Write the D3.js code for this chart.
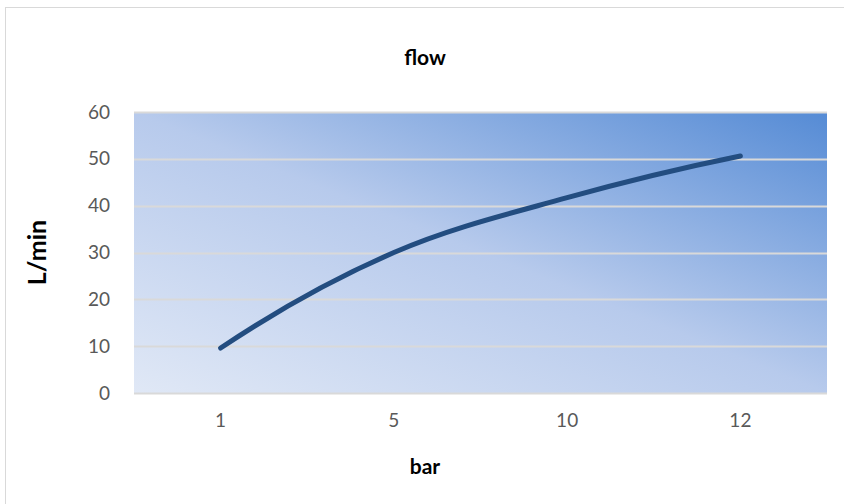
<!DOCTYPE html>
<html>
<head>
<meta charset="utf-8">
<script src="https://cdn.jsdelivr.net/npm/d3@7"></script>
<style>
  body { margin: 0; background: #fff; }
  svg { display: block; font-family: Lato, "Open Sans", sans-serif; }
</style>
</head>
<body>
<svg id="chart"></svg>
<script>
const width = 844;
const height = 504;

// chart values
const pressure = ["1", "5", "10", "12"];
const flow = [9.6, 30, 41.7, 50.6];
const yTicks = [0, 10, 20, 30, 40, 50, 60];

const plot = {left: 134, right: 827, top: 112, bottom: 393};

// Excel-like smoothing: cubic Hermite segments, tangents from 3-point parabolas
function curveSmooth(context) {
  let xs, ys;
  return {
    areaStart() {},
    areaEnd() {},
    lineStart() { xs = []; ys = []; },
    point(px, py) { xs.push(+px); ys.push(+py); },
    lineEnd() {
      const n = xs.length;
      if (!n) return;
      context.moveTo(xs[0], ys[0]);
      if (n < 3) {
        if (n === 2) context.lineTo(xs[1], ys[1]);
        return;
      }
      const t = xs.map((_, i) => {
        if (i === 0) return (-3 * ys[0] + 4 * ys[1] - ys[2]) / (xs[2] - xs[0]);
        if (i === n - 1) return (ys[n - 3] - 4 * ys[n - 2] + 3 * ys[n - 1]) / (xs[n - 1] - xs[n - 3]);
        return (ys[i + 1] - ys[i - 1]) / (xs[i + 1] - xs[i - 1]);
      });
      for (let i = 0; i < n - 1; i++) {
        const h = (xs[i + 1] - xs[i]) / 3;
        context.bezierCurveTo(xs[i] + h, ys[i] + h * t[i],
                              xs[i + 1] - h, ys[i + 1] - h * t[i + 1],
                              xs[i + 1], ys[i + 1]);
      }
    }
  };
}

const svg = d3.select("#chart")
  .attr("width", width)
  .attr("height", height)
  .attr("viewBox", [0, 0, width, height]);

// chart frame (partly cut off in the screenshot)
svg.append("rect")
  .attr("x", 5.5)
  .attr("y", 7.5)
  .attr("width", width + 10)
  .attr("height", height + 10)
  .attr("fill", "#fff")
  .attr("stroke", "#d9d9d9");

// plot area gradient, light bottom-left to dark top-right
const grad = svg.append("defs").append("linearGradient")
  .attr("id", "bg")
  .attr("x1", 0).attr("y1", 1)
  .attr("x2", 1).attr("y2", 0);
grad.append("stop").attr("offset", "0%").attr("stop-color", "#e0e8f6");
grad.append("stop").attr("offset", "50%").attr("stop-color", "#b7caec");
grad.append("stop").attr("offset", "100%").attr("stop-color", "#558bd5");

const x = d3.scaleBand()
  .domain(pressure)
  .range([plot.left, plot.right]);

const y = d3.scaleLinear()
  .domain([0, 60])
  .range([plot.bottom, plot.top]);

svg.append("rect")
  .attr("x", plot.left)
  .attr("y", plot.top)
  .attr("width", plot.right - plot.left)
  .attr("height", plot.bottom - plot.top)
  .attr("fill", "url(#bg)");

// gridlines
svg.append("g")
  .selectAll("line")
  .data(yTicks)
  .join("line")
  .attr("x1", plot.left)
  .attr("x2", plot.right)
  .attr("y1", d => Math.round(y(d)) + 0.5)
  .attr("y2", d => Math.round(y(d)) + 0.5)
  .attr("stroke", "#d9d9d9")
  .attr("stroke-width", 2);

// y axis labels
const yAxis = svg.append("g")
  .attr("transform", `translate(${plot.left - 24},0)`)
  .call(d3.axisLeft(y).tickValues(yTicks).tickSize(0).tickPadding(0));
yAxis.select(".domain").remove();
yAxis.selectAll("text")
  .attr("font-size", 19)
  .attr("font-family", "Lato, sans-serif")
  .attr("fill", "#595959");

// x axis labels
const xAxis = svg.append("g")
  .attr("transform", `translate(0,${plot.bottom + 20})`)
  .call(d3.axisBottom(x).tickSize(0).tickPadding(0));
xAxis.select(".domain").remove();
xAxis.selectAll("text")
  .attr("font-size", 19)
  .attr("font-family", "Lato, sans-serif")
  .attr("fill", "#595959");

// smoothed series line
const line = d3.line()
  .x((d, i) => x(pressure[i]) + x.bandwidth() / 2)
  .y(d => y(d))
  .curve(curveSmooth);

svg.append("path")
  .datum(flow)
  .attr("d", line)
  .attr("fill", "none")
  .attr("stroke", "#234d80")
  .attr("stroke-width", 5)
  .attr("stroke-linecap", "round");

// titles
svg.append("text")
  .attr("x", 425)
  .attr("y", 65)
  .attr("text-anchor", "middle")
  .attr("font-size", 21)
  .attr("font-weight", "bold")
  .text("flow");

svg.append("text")
  .attr("x", 425)
  .attr("y", 474)
  .attr("text-anchor", "middle")
  .attr("font-size", 21)
  .attr("font-weight", "bold")
  .text("bar");

svg.append("text")
  .attr("transform", `translate(46,${(plot.top + plot.bottom) / 2}) rotate(-90)`)
  .attr("text-anchor", "middle")
  .attr("font-size", 25)
  .attr("font-weight", "bold")
  .text("L/min");
</script>
</body>
</html>
